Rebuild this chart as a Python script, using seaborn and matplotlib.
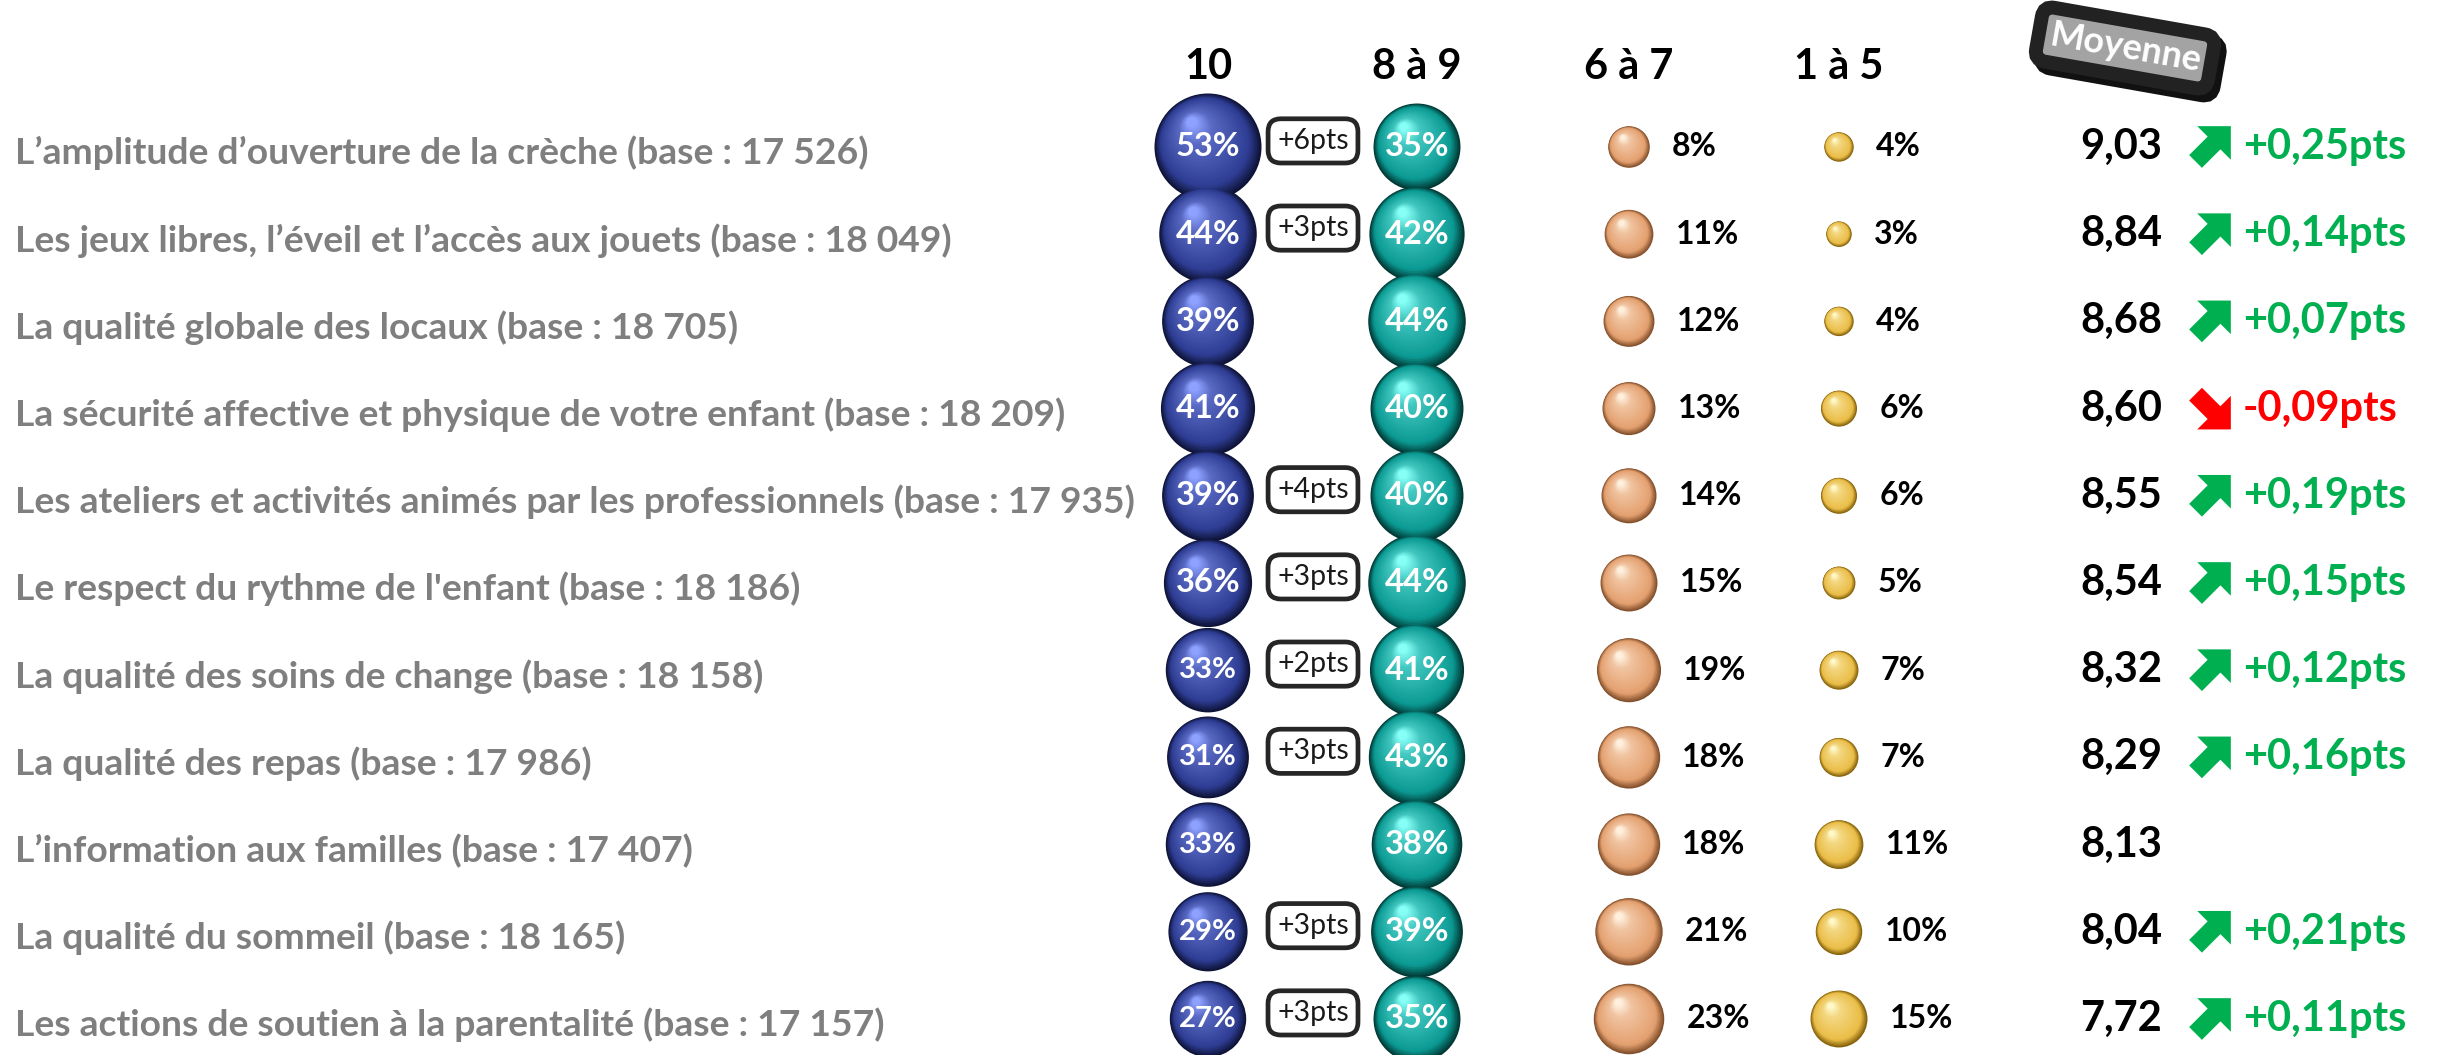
import numpy as np
import pandas as pd
import seaborn as sns
import matplotlib
matplotlib.use('Agg')
from matplotlib import pyplot as plt
from matplotlib.path import Path
from matplotlib.colors import to_rgb

#%% DATA
items = [
    "L’amplitude d’ouverture de la crèche (base : 17 526)",
    "Les jeux libres, l’éveil et l’accès aux jouets (base : 18 049)",
    "La qualité globale des locaux (base : 18 705)",
    "La sécurité affective et physique de votre enfant (base : 18 209)",
    "Les ateliers et activités animés par les professionnels (base : 17 935)",
    "Le respect du rythme de l'enfant (base : 18 186)",
    "La qualité des soins de change (base : 18 158)",
    "La qualité des repas (base : 17 986)",
    "L’information aux familles (base : 17 407)",
    "La qualité du sommeil (base : 18 165)",
    "Les actions de soutien à la parentalité (base : 17 157)",
]
bands = ["10", "8 à 9", "6 à 7", "1 à 5"]
pct_10 = [53, 44, 39, 41, 39, 36, 33, 31, 33, 29, 27]
pct_8_9 = [35, 42, 44, 40, 40, 44, 41, 43, 38, 39, 35]
pct_6_7 = [8, 11, 12, 13, 14, 15, 19, 18, 18, 21, 23]
pct_1_5 = [4, 3, 4, 6, 6, 5, 7, 7, 11, 10, 15]
delta_10 = [6, 3, None, None, 4, 3, 2, 3, None, 3, 3]
moyenne = [9.03, 8.84, 8.68, 8.60, 8.55, 8.54, 8.32, 8.29, 8.13, 8.04, 7.72]
delta_moy = [0.25, 0.14, 0.07, -0.09, 0.19, 0.15, 0.12, 0.16, None, 0.21, 0.11]

#%% LAYOUT / STYLE
W, H = 2440, 1055
ROW0, ROW_H = 147, 87.2            # pixel centre of first row, row pitch
BAND_X = {"10": 1208, "8 à 9": 1417, "6 à 7": 1629, "1 à 5": 1839}
BOX_X, MOY_X, ARROW_X, DMOY_X = 1313, 2162, 2210, 2243
PX_PER_SQRT = 14.7                 # bubble diameter (px) per sqrt(pct)
PT = 0.72                          # points per pixel at dpi 100
AREA_PER_PCT = (PX_PER_SQRT * PT) ** 2

shades = {  # dark rim, body, highlight
    "10": ("#0e1338", "#2e3d93", "#8ea1ff"),
    "8 à 9": ("#023935", "#0b9a93", "#86fff7"),
    "6 à 7": ("#83502c", "#e4a06f", "#fff0de"),
    "1 à 5": ("#85620b", "#eabd47", "#fff8c8"),
}
GREEN, RED, GREY = "#00b050", "#ff0000", "#7f7f7f"

sns.set_theme(style="white")
plt.rcParams["font.family"] = ["Lato", "DejaVu Sans"]

def row_y(px):
    return (px - ROW0) / ROW_H

df = pd.DataFrame({
    "row": list(range(len(items))) * len(bands),
    "band": np.repeat(bands, len(items)),
    "pct": pct_10 + pct_8_9 + pct_6_7 + pct_1_5,
})
df["x"] = df["band"].map(BAND_X)
df["r_px"] = PX_PER_SQRT * np.sqrt(df["pct"]) / 2

fig = plt.figure(figsize=(W / 100, H / 100), dpi=100)
ax = fig.add_axes([0, 0, 1, 1])
ax.set_xlim(0, W)
ax.set_ylim(row_y(H), row_y(0))
ax.axis("off")

#%% BUBBLES (base + sphere shading layers)
sns.scatterplot(data=df, x="x", y="row", hue="band",
                palette={b: shades[b][0] for b in bands},
                size="pct", sizes=(0, AREA_PER_PCT * 100), size_norm=(0, 100),
                linewidth=0, legend=False, ax=ax, zorder=2)

hl = np.array([-0.30, -0.46])       # highlight direction (fraction of radius)
stops_f = [0.10, 0.32, 0.84, 1.0]
fracs = np.linspace(0.97, 0.10, 30)
for k, f in enumerate(fracs):
    cols = []
    for b in df["band"]:
        dark, mid, light = (np.array(to_rgb(c)) for c in shades[b])
        stops_c = [light, mid * 0.55 + light * 0.45, mid, dark]
        cols.append([np.interp(f, stops_f, [c[i] for c in stops_c]) for i in range(3)])
    shift = (1 - f) / (1 - fracs[-1])
    dx = hl[0] * shift * df["r_px"]
    dy = hl[1] * shift * df["r_px"] / ROW_H
    ax.scatter(df["x"] + dx, df["row"] + dy, s=AREA_PER_PCT * df["pct"] * f ** 2,
               c=cols, linewidths=0, zorder=2 + k * 0.01)

for _, r in df.iterrows():
    if r["band"] in ("10", "8 à 9"):
        fs = 21 if r["pct"] < 34 else 23.5
        ax.text(r["x"], r["row"], f"{r['pct']}%", ha="center", va="center",
                color="white", fontsize=fs, fontweight="bold", zorder=5)
    else:
        ax.annotate(f"{r['pct']}%", (r["x"], r["row"]),
                    xytext=(r["r_px"] * PT + 16, 0), textcoords="offset points",
                    ha="left", va="center", fontsize=23, fontweight="bold",
                    color="black", zorder=5)

#%% HEADERS
for b in bands:
    ax.text(BAND_X[b], row_y(67), b, ha="center", va="center",
            fontsize=30, fontweight="bold", color="black")

box_kw = dict(rotation=-10, ha="center", va="center", fontsize=26,
              fontweight="bold")
ax.annotate("Moyenne", (2125, row_y(48)), xytext=(4, -5),
            textcoords="offset points", color="#111111", zorder=6,
            bbox=dict(boxstyle="round,pad=0.3,rounding_size=0.3",
                      fc="#111111", ec="#111111", lw=10), **box_kw)
ax.text(2125, row_y(48), "Moyenne", color="white", zorder=7,
        bbox=dict(boxstyle="round,pad=0.3,rounding_size=0.3",
                  fc="#a3a3a3", ec="#222222", lw=10), **box_kw)

#%% ROW LABELS, DELTA BOXES, MEANS
for i, label in enumerate(items):
    ax.text(15, i + 0.07, label, ha="left", va="center", fontsize=26.8,
            fontweight="bold", color=GREY)
    if delta_10[i] is not None:
        ax.text(BOX_X, i - 0.07, f"+{delta_10[i]}pts", ha="center", va="center",
                fontsize=20.5, color="#1a1a1a", zorder=4,
                bbox=dict(boxstyle="round,pad=0.32,rounding_size=0.45",
                          fc="white", ec="#262626", lw=3.4))
    ax.text(MOY_X, i, f"{moyenne[i]:.2f}".replace(".", ","), ha="right",
            va="center", fontsize=30, fontweight="bold", color="black")
    d = delta_moy[i]
    if d is not None:
        ax.text(DMOY_X, i, f"{d:+.2f}pts".replace(".", ","), ha="left",
                va="center", fontsize=30, fontweight="bold",
                color=GREEN if d > 0 else RED)

# arrow markers for mean evolution
def arrow_path(angle):
    v = np.array([(-0.55, -0.19), (0, -0.19), (0, -0.5), (0.5, 0),
                  (0, 0.5), (0, 0.19), (-0.55, 0.19), (-0.55, -0.19)])
    a = np.deg2rad(angle)
    rot = np.array([[np.cos(a), -np.sin(a)], [np.sin(a), np.cos(a)]])
    v = v @ rot.T
    v -= (v.max(axis=0) + v.min(axis=0)) / 2
    codes = [Path.MOVETO] + [Path.LINETO] * 6 + [Path.CLOSEPOLY]
    return Path(v, codes)

arr = pd.DataFrame({"row": range(len(items)), "d": delta_moy}).dropna()
arr["x"] = ARROW_X
arr["dir"] = np.where(arr["d"] > 0, "up", "down")
sns.scatterplot(data=arr, x="x", y="row", hue="dir", style="dir",
                palette={"up": GREEN, "down": RED},
                markers={"up": arrow_path(45), "down": arrow_path(-45)},
                s=30 ** 2, linewidth=0, legend=False, ax=ax, zorder=4)

fig.savefig("out.png", dpi=100)
